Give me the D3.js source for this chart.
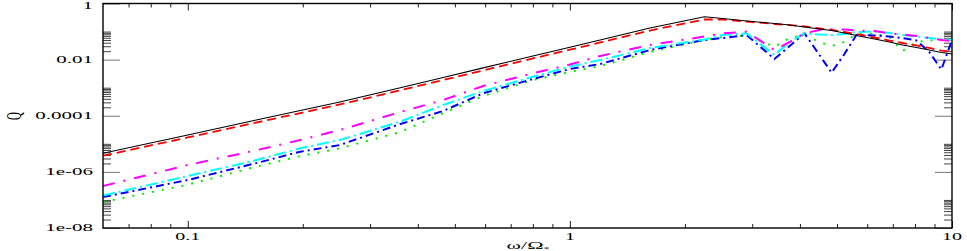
<!DOCTYPE html>
<html><head><meta charset="utf-8">
<script src="https://cdn.jsdelivr.net/npm/d3@7"></script>
<style>body{margin:0;background:#fff}svg{display:block}</style>
</head><body><svg id="c" width="967" height="251"></svg>
<script>
// ---- data ----
const omega = [0.06,0.1,0.148,0.197,0.25,0.36,0.466,0.593,0.8,1.0,1.2,1.62,2.25,2.51,2.9,3.43,3.76,4.11,4.5,4.84,5.23,5.62,6.27,6.86,7.42,8.07,8.72,9.38,10];
const qBlack   = [4.6e-6,2.06e-5,6.6e-5,1.53e-4,3.09e-4,9.9e-4,2.31e-3,5.07e-3,1.35e-2,2.77e-2,5.0e-2,0.134,0.339,0.292,0.238,0.194,0.171,0.145,0.123,0.109,0.0889,0.0724,0.0543,0.0425,0.0332,0.027,0.022,0.0179,0.0159];
const qRed     = [3.77e-6,1.68e-5,5.38e-5,1.25e-4,2.52e-4,8.07e-4,1.88e-3,4.13e-3,1.1e-2,2.26e-2,4.08e-2,0.109,0.269,0.269,0.228,0.186,0.171,0.152,0.129,0.114,0.0964,0.0818,0.0614,0.048,0.0391,0.0319,0.026,0.0211,0.0187];
const qMagenta = [3.13e-7,1.76e-6,5.54e-6,1.37e-5,3.1e-5,1.36e-4,3.64e-4,1.15e-3,3.25e-3,6.7e-3,1.35e-2,0.0332,0.0667,0.0867,0.0989,0.022,0.0425,0.0867,0.114,0.12,0.118,0.109,0.105,0.0867,0.0786,0.0695,0.059,0.05,0.0461];
const qCyan    = [1.44e-7,7.12e-7,2.44e-6,6.91e-6,1.37e-5,6.23e-5,2.41e-4,7.62e-4,2.46e-3,5.69e-3,9.69e-3,0.026,0.0521,0.0754,0.0867,0.0146,0.0425,0.0867,0.0786,0.0754,0.0818,0.0964,0.1005,0.0889,0.0754,0.0667,0.059,0.053,0.05];
const qBlue    = [1.27e-7,5.13e-7,1.91e-6,5.23e-6,9.06e-6,5.08e-5,1.48e-4,6.31e-4,2.04e-3,4.63e-3,6.98e-3,0.022,0.05,0.059,0.0754,0.0105,0.0306,0.0867,0.0146,0.00342,0.0159,0.0754,0.0724,0.0667,0.059,0.048,0.0187,0.00445,0.05];
const qGreen   = [8.43e-8,3.49e-7,1.42e-6,3.68e-6,6.91e-6,2.63e-5,1.25e-4,5.05e-4,1.88e-3,3.62e-3,5.92e-3,0.0187,0.05,0.064,0.0724,0.0289,0.059,0.0754,0.0425,0.0306,0.0425,0.0818,0.0853,0.064,0.0203,0.0425,0.048,0.0521,0.0543];

const xTickValues = [0.1, 1, 10];
const xTickLabels = ["0.1", "1", "10"];
const yTickValues = [1, 1e-2, 1e-4, 1e-6, 1e-8];
const yTickLabels = ["1", "0.01", "0.0001", "1e-06", "1e-08"];
const xTitle = "ω/Ω";
const yTitle = "Q";

// ---- layout ----
const L = 103, R = 952, T = 3.5, B = 228;
const svg = d3.select("#c");
const x = d3.scaleLog().domain([0.06, 10]).range([L, R]);
const y = d3.scaleLog().domain([1e-8, 1]).range([B, T]);
const FONT = "'Liberation Serif','DejaVu Serif',serif";

svg.append("defs").append("clipPath").attr("id", "clip")
  .append("rect").attr("x", L).attr("y", T).attr("width", R - L).attr("height", B - T);

// x ticks: k*10^e
const xMinor = [];
for (let e = -2; e <= 1; e++) for (let k = 1; k <= 9; k++) {
  const v = k * Math.pow(10, e);
  if (v > 0.0601 && v <= 10.0001) xMinor.push(v);
}
const isXMajor = v => xTickValues.some(t => Math.abs(t - v) / t < 1e-6);

const axB = d3.axisBottom(x).tickValues(xMinor).tickFormat("").tickSizeOuter(0).tickSizeInner(-4);
const gB = svg.append("g").attr("transform", `translate(0,${B})`).call(axB);
const axT = d3.axisTop(x).tickValues(xMinor).tickFormat("").tickSizeOuter(0).tickSizeInner(-4);
const gT = svg.append("g").attr("transform", `translate(0,${T})`).call(axT);
[gB, gT].forEach((g, i) => {
  g.select(".domain").remove();
  g.selectAll(".tick line").attr("stroke", "#222").attr("stroke-width", 1)
    .attr("y2", d => (isXMajor(d) ? 7 : 4) * (i === 0 ? -1 : 1));
});

// y ticks: majors at even exponents, minors k*10^e (k=2..10) for even e
const yMinor = [];
for (let e = -8; e < 0; e += 2) for (let k = 2; k <= 10; k++) yMinor.push(k * Math.pow(10, e));
const yAll = yTickValues.concat(yMinor);
const isYMajor = v => yTickValues.some(t => Math.abs(t - v) / t < 1e-6);

const axLft = d3.axisLeft(y).tickValues(yAll).tickFormat("").tickSizeOuter(0).tickSizeInner(-8);
const gL = svg.append("g").attr("transform", `translate(${L},0)`).call(axLft);
const axRgt = d3.axisRight(y).tickValues(yAll).tickFormat("").tickSizeOuter(0).tickSizeInner(-8);
const gR = svg.append("g").attr("transform", `translate(${R},0)`).call(axRgt);
[gL, gR].forEach((g, i) => {
  g.select(".domain").remove();
  g.selectAll(".tick line")
    .attr("stroke", d => isYMajor(d) ? "#777" : "#444")
    .attr("stroke-width", 1)
    .attr("x2", d => (isYMajor(d) ? 17 : 8) * (i === 0 ? 1 : -1));
});

// series
const series = [
  {q: qGreen,   color: "#00ee00", dash: "2,8",        w: 2},
  {q: qBlue,    color: "#0000ff", dash: "8,4,2,4",    w: 2},
  {q: qCyan,    color: "#00ffff", dash: "12,4,2,4",   w: 2},
  {q: qMagenta, color: "#ff00ff", dash: "12,9,2,9",   w: 2},
  {q: qRed,     color: "#ff0000", dash: "9,5",        w: 1.8},
  {q: qBlack,   color: "#000000", dash: null,         w: 1.1}
];
const line = d3.line().x(d => x(d[0])).y(d => y(d[1]));
const gLines = svg.append("g").attr("clip-path", "url(#clip)");
series.forEach(s => {
  gLines.append("path")
    .datum(omega.map((o, i) => [o, s.q[i]]))
    .attr("d", line)
    .attr("fill", "none")
    .attr("stroke", s.color)
    .attr("stroke-width", s.w)
    .attr("stroke-dasharray", s.dash)
    .attr("stroke-linejoin", "miter");
});

// frame
svg.append("rect").attr("x", L).attr("y", T).attr("width", R - L).attr("height", B - T)
  .attr("fill", "none").attr("stroke", "#000").attr("stroke-width", 1.4);

// tick labels (stretched horizontally like the reference)
xTickValues.forEach((v, i) => {
  svg.append("text")
    .attr("transform", `translate(${x(v)},240) scale(2,1)`)
    .attr("text-anchor", "middle")
    .attr("font-family", FONT).attr("font-size", 10)
    .text(xTickLabels[i]);
});
yTickValues.forEach((v, i) => {
  const yy = Math.max(y(v) + 3.4, 9);
  svg.append("text")
    .attr("transform", `translate(93,${yy}) scale(2.1,1)`)
    .attr("text-anchor", "end")
    .attr("font-family", FONT).attr("font-size", 10)
    .text(yTickLabels[i]);
});

// axis titles
const xt = svg.append("text")
  .attr("transform", `translate(528,249) scale(2,1)`)
  .attr("text-anchor", "middle")
  .attr("font-family", FONT).attr("font-size", 11);
xt.append("tspan").text(xTitle);
xt.append("tspan").attr("font-size", 6).attr("dy", 2).text("*");

svg.append("text")
  .attr("transform", `translate(21,116) scale(2,1) rotate(-90)`)
  .attr("text-anchor", "middle")
  .attr("font-family", FONT).attr("font-size", 11)
  .text(yTitle);
</script>
</body></html>
